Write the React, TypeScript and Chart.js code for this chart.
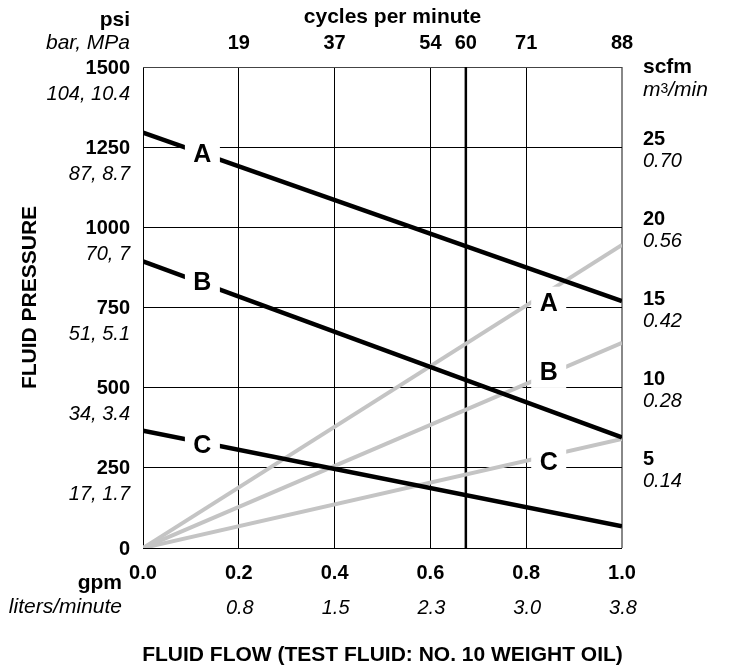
import { useEffect, useRef } from "react";
import { Chart, registerables } from "chart.js";
Chart.register(...registerables);

// ---- data ----
const flowEnds = [0, 1];
const pressureA = [1295, 770];
const pressureB = [894, 345];
const pressureC = [366, 68];
const scfmA = [0, 18.9];
const scfmB = [0, 12.8];
const scfmC = [0, 6.8];

const psiTicks = [0, 250, 500, 750, 1000, 1250, 1500];
const psiMetric = ["", "17, 1.7", "34, 3.4", "51, 5.1", "70, 7", "87, 8.7", "104, 10.4"];
const gpmTicks = [0, 0.2, 0.4, 0.6, 0.8, 1.0];
const gpmLabels = ["0.0", "0.2", "0.4", "0.6", "0.8", "1.0"];
const lpmLabels = ["", "0.8", "1.5", "2.3", "3.0", "3.8"];
const cpmLabels = ["19", "37", "54", "60", "71", "88"];
const cpmFlow = [0.2, 0.4, 0.6, 0.674, 0.8, 1.0];
const markedCpmFlow = 0.674;
const scfmTicks = [5, 10, 15, 20, 25];
const m3Labels = ["0.14", "0.28", "0.42", "0.56", "0.70"];
const curveLabels = ["A", "B", "C"];
const blackLabelFlow = 0.124;
const blackLabelPsi = [1227, 830, 321];
const grayLabelFlow = 0.847;
const grayLabelPsi = [765, 549, 268];

const FF = '"Liberation Sans", Arial, Helvetica, sans-serif';
const NUM = `bold 20px ${FF}`;
const BOLD = `bold 21px ${FF}`;
const ITAL = `italic 21px ${FF}`;
const ITALNUM = `italic 20px ${FF}`;

function pts(xs: number[], ys: number[]) {
  return xs.map((x, i) => ({ x, y: ys[i] }));
}

const textPlugin = {
  id: "customText",
  beforeDatasetsDraw(chart: any) {
    const { ctx, chartArea, scales } = chart;
    const x = scales.x.getPixelForValue(markedCpmFlow);
    ctx.save();
    ctx.strokeStyle = "#000";
    ctx.lineWidth = 2.5;
    ctx.beginPath();
    ctx.moveTo(x, chartArea.top);
    ctx.lineTo(x, chartArea.bottom);
    ctx.stroke();
    ctx.restore();
  },
  afterDatasetsDraw(chart: any) {
    const { ctx, scales } = chart;
    ctx.save();
    ctx.font = `bold 25px ${FF}`;
    ctx.textAlign = "center";
    ctx.textBaseline = "middle";
    const draw = (fx: number, py: number, s: string) => {
      const cx = scales.x.getPixelForValue(fx);
      const cy = scales.y.getPixelForValue(py);
      ctx.fillStyle = "#fff";
      ctx.fillRect(cx - 17.5, cy - 16, 35, 32);
      ctx.fillStyle = "#000";
      ctx.fillText(s, cx, cy + 1);
    };
    curveLabels.forEach((s, i) => draw(blackLabelFlow, blackLabelPsi[i], s));
    curveLabels.forEach((s, i) => draw(grayLabelFlow, grayLabelPsi[i], s));
    ctx.restore();
  },
  afterDraw(chart: any) {
    const { ctx, chartArea, scales } = chart;
    const L = chartArea.left, T = chartArea.top, B = chartArea.bottom, R = chartArea.right;
    ctx.save();
    ctx.fillStyle = "#000";
    ctx.textBaseline = "middle";
    const t = (s: string, x: number, y: number, font: string, align: CanvasTextAlign) => {
      ctx.font = font;
      ctx.textAlign = align;
      ctx.fillText(s, x, y);
    };
    // left axis
    const lx = L - 13;
    t("psi", lx, T - 47, BOLD, "right");
    t("bar, MPa", lx, T - 24, ITAL, "right");
    psiTicks.forEach((v, i) => {
      const y = scales.y.getPixelForValue(v);
      t(String(v), lx, y + 1, NUM, "right");
      if (psiMetric[i]) t(psiMetric[i], lx, y + 27, ITALNUM, "right");
    });
    // bottom axis
    gpmTicks.forEach((v, i) => {
      const x = scales.x.getPixelForValue(v);
      t(gpmLabels[i], x, B + 25, NUM, "center");
      if (lpmLabels[i]) t(lpmLabels[i], x + 1, B + 60, ITALNUM, "center");
    });
    t("gpm", L - 21, B + 35, BOLD, "right");
    t("liters/minute", L - 21, B + 59, ITAL, "right");
    t("FLUID FLOW (TEST FLUID: NO. 10 WEIGHT OIL)", (L + R) / 2, B + 107, BOLD, "center");
    // top axis
    t("cycles per minute", (L + R) / 2 + 10, T - 50, BOLD, "center");
    cpmFlow.forEach((v, i) => {
      const x = scales.x.getPixelForValue(v);
      t(cpmLabels[i], x, T - 24, NUM, "center");
    });
    // right axis
    const rx = R + 21;
    t("scfm", rx, T, BOLD, "left");
    ctx.font = ITAL;
    ctx.textAlign = "left";
    ctx.fillText("m", rx, T + 23);
    const mw = ctx.measureText("m").width;
    ctx.font = `14px ${FF}`;
    ctx.fillText("3", rx + mw, T + 22);
    const tw = ctx.measureText("3").width;
    ctx.font = ITAL;
    ctx.fillText("/min", rx + mw + tw, T + 23);
    scfmTicks.forEach((v, i) => {
      const y = scales.y2.getPixelForValue(v);
      t(String(v), rx, y - 8, NUM, "left");
      t(m3Labels[i], rx, y + 14, ITALNUM, "left");
    });
    // left title
    ctx.save();
    ctx.translate(30, (T + B) / 2 - 10);
    ctx.rotate(-Math.PI / 2);
    t("FLUID PRESSURE", 0, 0, BOLD, "center");
    ctx.restore();
    ctx.restore();
  },
};

export default function App() {
  const ref = useRef<HTMLCanvasElement>(null);
  useEffect(() => {
    if (!ref.current) return;
    const black = "#000";
    const gray = "#c4c4c4";
    const chart = new Chart(ref.current, {
      type: "line",
      data: {
        datasets: [
          { label: "A", data: pts(flowEnds, pressureA), yAxisID: "y", borderColor: black, borderWidth: 4.5, pointRadius: 0, order: 1 },
          { label: "B", data: pts(flowEnds, pressureB), yAxisID: "y", borderColor: black, borderWidth: 4.5, pointRadius: 0, order: 1 },
          { label: "C", data: pts(flowEnds, pressureC), yAxisID: "y", borderColor: black, borderWidth: 4.5, pointRadius: 0, order: 1 },
          { label: "A scfm", data: pts(flowEnds, scfmA), yAxisID: "y2", borderColor: gray, borderWidth: 4, pointRadius: 0, order: 2 },
          { label: "B scfm", data: pts(flowEnds, scfmB), yAxisID: "y2", borderColor: gray, borderWidth: 4, pointRadius: 0, order: 2 },
          { label: "C scfm", data: pts(flowEnds, scfmC), yAxisID: "y2", borderColor: gray, borderWidth: 4, pointRadius: 0, order: 2 },
        ],
      },
      options: {
        responsive: false,
        animation: false,
        layout: { padding: { left: 143, top: 67, right: 110, bottom: 119 } },
        plugins: { legend: { display: false }, tooltip: { enabled: false } },
        scales: {
          x: {
            type: "linear",
            min: 0,
            max: 1,
            ticks: { display: false, stepSize: 0.2 },
            border: { display: false },
            grid: {
              drawTicks: false,
              color: (c: any) => (c.tick && Math.abs(c.tick.value - 1) < 1e-6 ? "#888" : "#000"),
              lineWidth: (c: any) => (c.tick && Math.abs(c.tick.value - 1) < 1e-6 ? 2 : 1),
            },
          },
          y: {
            type: "linear",
            min: 0,
            max: 1500,
            ticks: { display: false, stepSize: 250 },
            border: { display: false },
            grid: {
              drawTicks: false,
              color: (c: any) => (c.tick && c.tick.value === 1500 ? "#444" : "#000"),
              lineWidth: 1,
            },
          },
          y2: { type: "linear", min: 0, max: 30, display: false, position: "right" },
        },
      },
      plugins: [textPlugin],
    });
    return () => chart.destroy();
  }, []);
  return (
    <div style={{ position: "fixed", left: 0, top: 0, width: 732, height: 667, background: "#fff" }}>
      <canvas ref={ref} width={732} height={667} style={{ width: 732, height: 667 }} />
    </div>
  );
}
